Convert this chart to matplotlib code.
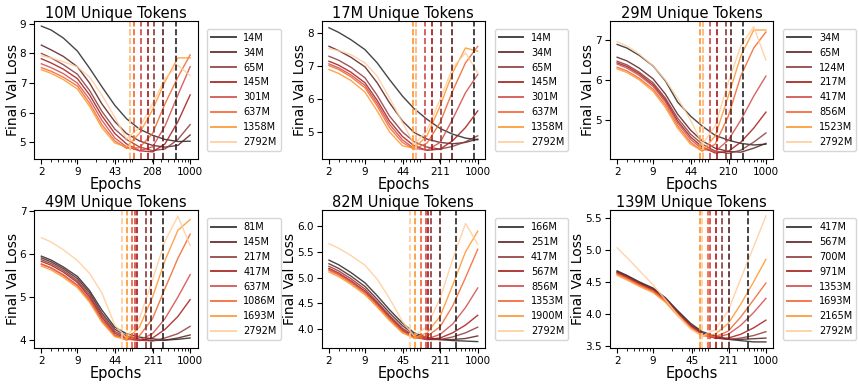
import numpy as np
import matplotlib
matplotlib.use("Agg")
import matplotlib.pyplot as plt
from matplotlib.ticker import NullFormatter

epochs = [2, 3, 5, 9, 15, 25, 43, 70, 120, 208, 350, 600, 1000]

titles = ["10M Unique Tokens", "17M Unique Tokens", "29M Unique Tokens",
          "49M Unique Tokens", "82M Unique Tokens", "139M Unique Tokens"]

sizes_10m = ["14M", "34M", "65M", "145M", "301M", "637M", "1358M", "2792M"]
sizes_17m = ["14M", "34M", "65M", "145M", "301M", "637M", "1358M", "2792M"]
sizes_29m = ["34M", "65M", "124M", "217M", "417M", "856M", "1523M", "2792M"]
sizes_49m = ["81M", "145M", "217M", "417M", "637M", "1086M", "1693M", "2792M"]
sizes_82m = ["166M", "251M", "417M", "567M", "856M", "1353M", "1900M", "2792M"]
sizes_139m = ["417M", "567M", "700M", "971M", "1353M", "1693M", "2165M", "2792M"]

loss_10m = [
    [8.92, 8.79, 8.52, 8.08, 7.50, 6.88, 6.25, 5.80, 5.45, 5.24, 5.10, 5.03, 5.04],
    [8.28, 8.12, 7.90, 7.55, 7.00, 6.30, 5.70, 5.30, 5.05, 4.90, 4.84, 4.90, 5.25],
    [8.00, 7.85, 7.62, 7.30, 6.75, 6.05, 5.45, 5.10, 4.85, 4.72, 4.78, 5.10, 5.60],
    [7.82, 7.68, 7.47, 7.15, 6.60, 5.90, 5.30, 4.95, 4.72, 4.68, 4.95, 5.70, 6.60],
    [7.65, 7.52, 7.32, 7.00, 6.45, 5.75, 5.15, 4.85, 4.72, 4.85, 5.55, 6.60, 7.55],
    [7.52, 7.40, 7.20, 6.90, 6.32, 5.60, 5.05, 4.80, 4.82, 5.30, 6.30, 7.20, 7.95],
    [7.45, 7.33, 7.12, 6.80, 6.22, 5.50, 4.98, 4.85, 5.30, 6.10, 7.05, 7.85, 7.85],
    [7.92, 7.85, 7.72, 7.55, 7.20, 6.60, 5.85, 5.12, 5.50, 6.30, 7.15, 7.60, 7.25],
]
loss_17m = [
    [8.16, 8.02, 7.80, 7.50, 7.10, 6.60, 6.10, 5.72, 5.40, 5.12, 4.95, 4.83, 4.78],
    [7.60, 7.47, 7.27, 6.98, 6.50, 5.90, 5.35, 5.00, 4.80, 4.70, 4.66, 4.70, 4.80],
    [7.30, 7.18, 6.97, 6.65, 6.12, 5.50, 5.02, 4.72, 4.56, 4.50, 4.58, 4.72, 4.90],
    [7.15, 7.03, 6.82, 6.50, 5.97, 5.35, 4.88, 4.60, 4.46, 4.50, 4.75, 5.15, 5.65],
    [7.07, 6.95, 6.74, 6.42, 5.88, 5.25, 4.78, 4.52, 4.47, 4.70, 5.40, 6.20, 6.75],
    [7.02, 6.90, 6.68, 6.35, 5.80, 5.15, 4.70, 4.50, 4.68, 5.30, 6.25, 7.10, 7.60],
    [6.90, 6.78, 6.57, 6.22, 5.65, 5.02, 4.60, 4.52, 4.90, 5.80, 6.80, 7.55, 7.45],
    [7.53, 7.47, 7.35, 7.10, 6.70, 6.05, 5.30, 4.65, 5.05, 6.00, 6.95, 7.40, 6.80],
]
loss_29m = [
    [6.89, 6.80, 6.62, 6.35, 5.98, 5.45, 5.10, 4.85, 4.62, 4.50, 4.42, 4.38, 4.40],
    [6.57, 6.48, 6.30, 6.03, 5.65, 5.15, 4.75, 4.48, 4.30, 4.22, 4.20, 4.30, 4.42],
    [6.47, 6.38, 6.20, 5.93, 5.55, 5.05, 4.65, 4.40, 4.23, 4.17, 4.25, 4.45, 4.68],
    [6.43, 6.34, 6.16, 5.88, 5.50, 4.98, 4.58, 4.33, 4.18, 4.22, 4.45, 4.80, 5.20],
    [6.40, 6.30, 6.12, 5.84, 5.45, 4.93, 4.52, 4.28, 4.22, 4.50, 5.00, 5.60, 6.10],
    [6.32, 6.23, 6.05, 5.77, 5.38, 4.86, 4.45, 4.23, 4.40, 5.10, 6.10, 6.80, 7.20],
    [6.28, 6.19, 6.01, 5.72, 5.32, 4.80, 4.40, 4.23, 4.60, 5.60, 6.60, 7.25, 7.25],
    [6.96, 6.85, 6.65, 6.35, 6.00, 5.55, 5.00, 4.40, 4.85, 5.95, 6.85, 7.33, 6.50],
]
loss_49m = [
    [5.95, 5.86, 5.70, 5.48, 5.15, 4.70, 4.30, 4.15, 4.07, 4.03, 4.00, 4.02, 4.05],
    [5.91, 5.82, 5.66, 5.43, 5.10, 4.63, 4.25, 4.10, 4.02, 3.99, 4.00, 4.05, 4.12],
    [5.87, 5.78, 5.62, 5.38, 5.05, 4.58, 4.20, 4.07, 4.00, 3.98, 4.05, 4.15, 4.32],
    [5.83, 5.74, 5.58, 5.34, 5.00, 4.53, 4.16, 4.04, 3.99, 4.05, 4.25, 4.55, 4.94],
    [5.77, 5.68, 5.52, 5.28, 4.95, 4.48, 4.12, 4.02, 4.00, 4.15, 4.50, 5.00, 5.52],
    [5.76, 5.67, 5.50, 5.26, 4.92, 4.45, 4.10, 4.00, 4.10, 4.50, 5.20, 5.90, 6.46],
    [5.72, 5.63, 5.46, 5.22, 4.88, 4.42, 4.08, 4.02, 4.30, 5.00, 5.85, 6.55, 6.80],
    [6.38, 6.28, 6.10, 5.85, 5.55, 5.10, 4.35, 4.05, 4.50, 5.40, 6.30, 6.88, 6.20],
]
loss_82m = [
    [5.34, 5.25, 5.10, 4.90, 4.65, 4.38, 4.12, 3.93, 3.84, 3.80, 3.78, 3.77, 3.76],
    [5.27, 5.18, 5.03, 4.83, 4.58, 4.32, 4.07, 3.90, 3.82, 3.80, 3.80, 3.82, 3.87],
    [5.22, 5.13, 4.98, 4.78, 4.53, 4.27, 4.02, 3.87, 3.80, 3.80, 3.85, 3.93, 4.04],
    [5.18, 5.09, 4.94, 4.74, 4.50, 4.24, 3.99, 3.85, 3.80, 3.83, 3.93, 4.08, 4.27],
    [5.16, 5.07, 4.92, 4.72, 4.48, 4.22, 3.97, 3.84, 3.81, 3.90, 4.10, 4.42, 4.80],
    [5.14, 5.05, 4.90, 4.70, 4.46, 4.20, 3.95, 3.83, 3.86, 4.05, 4.45, 5.00, 5.55],
    [5.11, 5.02, 4.87, 4.67, 4.43, 4.17, 3.93, 3.83, 3.93, 4.25, 4.85, 5.50, 5.90],
    [5.66, 5.57, 5.43, 5.24, 4.97, 4.60, 4.15, 3.87, 4.05, 4.60, 5.35, 6.05, 5.65],
]
loss_139m = [
    [4.67, 4.60, 4.50, 4.40, 4.25, 4.05, 3.85, 3.72, 3.65, 3.60, 3.58, 3.56, 3.56],
    [4.66, 4.59, 4.49, 4.39, 4.24, 4.03, 3.83, 3.70, 3.63, 3.60, 3.60, 3.61, 3.62],
    [4.65, 4.58, 4.48, 4.38, 4.23, 4.02, 3.82, 3.69, 3.62, 3.60, 3.62, 3.66, 3.72],
    [4.64, 4.57, 4.47, 4.37, 4.22, 4.01, 3.81, 3.68, 3.62, 3.62, 3.68, 3.78, 3.90],
    [4.63, 4.56, 4.46, 4.36, 4.21, 4.00, 3.80, 3.67, 3.63, 3.68, 3.82, 4.02, 4.24],
    [4.62, 4.55, 4.45, 4.35, 4.20, 3.99, 3.79, 3.66, 3.64, 3.73, 3.95, 4.22, 4.48],
    [4.60, 4.53, 4.43, 4.33, 4.18, 3.97, 3.77, 3.65, 3.68, 3.85, 4.15, 4.50, 4.85],
    [5.03, 4.88, 4.68, 4.45, 4.22, 3.98, 3.76, 3.65, 3.75, 4.05, 4.55, 5.05, 5.53],
]

# epoch of the minimum loss for each model (dashed lines)
opt_10m = [543, 316, 220, 174, 127, 96, 80, 80]
opt_17m = [857, 340, 218, 150, 111, 76, 68, 76]
opt_29m = [379, 230, 190, 132, 96, 71, 64, 71]
opt_49m = [325, 192, 160, 110, 100, 89, 73, 59]
opt_82m = [401, 209, 140, 127, 115, 92, 73, 58]
opt_139m = [467, 212, 158, 122, 98, 90, 63, 69]

xtick_labels = [
    ["2", "9", "43", "208", "1000"],
    ["2", "9", "44", "211", "1000"],
    ["2", "9", "44", "210", "1000"],
    ["2", "9", "44", "211", "1000"],
    ["2", "9", "45", "211", "1000"],
    ["2", "9", "45", "211", "1000"],
]
yticks = [
    [5, 6, 7, 8, 9],
    [5, 6, 7, 8],
    [5, 6, 7],
    [4, 5, 6, 7],
    [4.0, 4.5, 5.0, 5.5, 6.0],
    [3.5, 4.0, 4.5, 5.0, 5.5],
]
ylims = [(4.44, 9.1), (4.2, 8.37), (4.03, 7.48), (3.81, 7.02), (3.63, 6.31), (3.46, 5.62)]

sizes = [sizes_10m, sizes_17m, sizes_29m, sizes_49m, sizes_82m, sizes_139m]
losses = [loss_10m, loss_17m, loss_29m, loss_49m, loss_82m, loss_139m]
opts = [opt_10m, opt_17m, opt_29m, opt_49m, opt_82m, opt_139m]

colors = ['#262626', '#5a2020', '#8c3a3a', '#a51818', '#d24848',
          '#f2642c', '#ff952a', '#ffcc99']

fig = plt.figure(figsize=(8.59, 3.85), dpi=100)
lefts = [0.0395, 0.3743, 0.7098]
bottoms = [0.587, 0.0953]

for i in range(6):
    r, c = divmod(i, 3)
    ax = fig.add_axes([lefts[c], bottoms[r], 0.1905, 0.359])
    for j in range(8):
        ax.plot(epochs, losses[i][j], color=colors[j], lw=1.0, alpha=0.85,
                label=sizes[i][j])
    for j in range(8):
        ax.axvline(opts[i][j], color=colors[j], ls='--', lw=1.2)
    ax.set_xscale('log')
    ticks = [2, 9] + [int(t) for t in xtick_labels[i][2:]]
    ax.set_xticks(ticks)
    ax.set_xticklabels(xtick_labels[i], fontsize=7.5)
    ax.xaxis.set_minor_formatter(NullFormatter())
    ax.set_yticks(yticks[i])
    ax.tick_params(axis='y', labelsize=7.5, pad=2)
    ax.tick_params(axis='x', pad=2)
    ax.set_ylim(*ylims[i])
    ax.set_title(titles[i], fontsize=10.5, pad=2)
    ax.set_xlabel("Epochs", fontsize=10.5, labelpad=0)
    ax.set_ylabel("Final Val Loss", fontsize=10, labelpad=0)
    leg = ax.legend(loc='center left', bbox_to_anchor=(1.03, 0.5), fontsize=7,
                    handlelength=2.5)
    for h in leg.get_lines():
        h.set_linewidth(1.4)

fig.savefig("out.png", dpi=100)
